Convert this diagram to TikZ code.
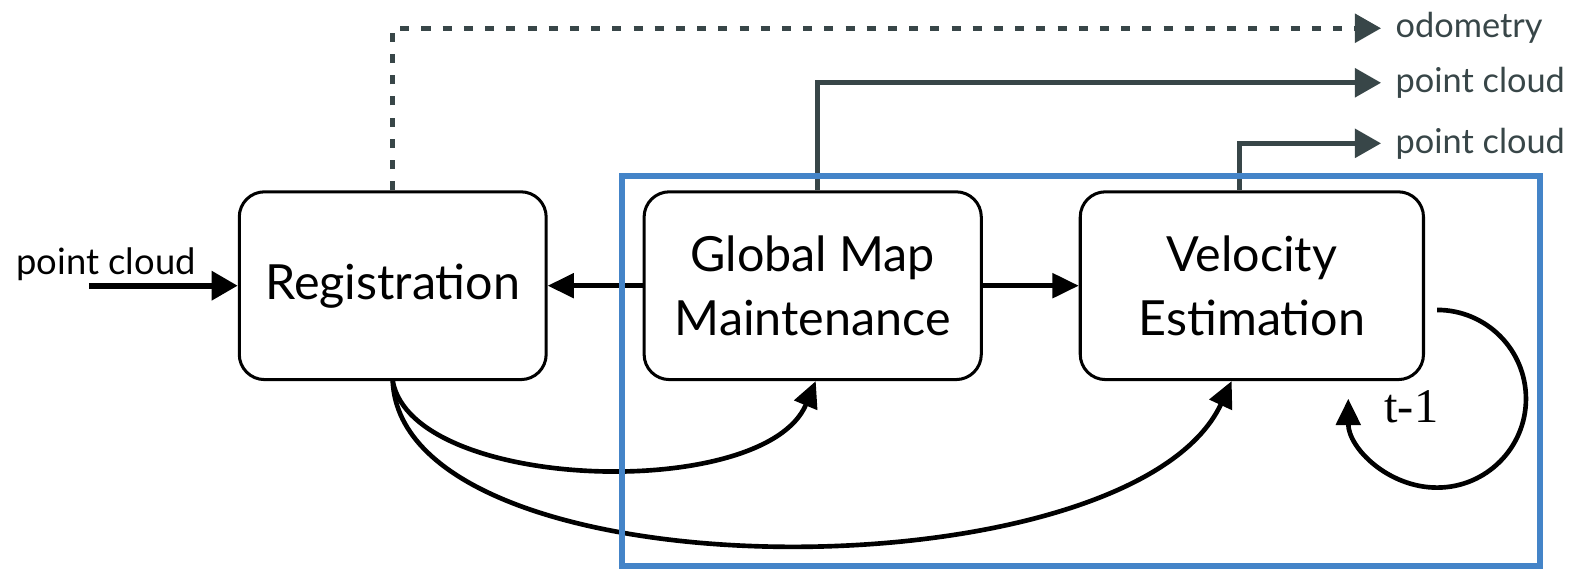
\documentclass[tikz,border=0pt]{standalone}
\usepackage{fontspec}
\setmainfont{Lato}
\newfontfamily\timesface{Liberation Serif}
\usetikzlibrary{arrows.meta, positioning, calc}
\definecolor{frameblue}{RGB}{68,132,200}
\definecolor{wiregray}{RGB}{56,70,72}
\tikzset{
  block/.style={draw, line width=1.5pt, rounded corners=12.5pt, minimum width=#1, minimum height=93pt,
    align=center, font=\fontsize{24}{31.5}\selectfont},
  outlabel/.style={anchor=west, inner xsep=7pt, inner ysep=1pt, text=wiregray, font=\fontsize{17}{20}\selectfont},
  wire/.style={draw=wiregray, line width=2.5pt, -{Triangle[length=13pt,width=14pt]}},
  flow/.style={line width=2.3pt, -{Triangle[length=13pt,width=12pt]}},
}

\begin{document}
\begin{tikzpicture}[x=0.5pt, y=0.5pt]
\useasboundingbox (0,0) rectangle (1568,565);

% Processing blocks
\node[block=152pt] (reg) at (389,282) {Registration};
\node[block=167pt] (gmm) at (805,282) {Global Map\\Maintenance};
\node[block=170pt] (vel) at (1240,282) {Velocity\\Estimation};

% Input
\coordinate (src) at (88,282);
\node[font=\fontsize{18}{21}\selectfont, inner sep=1pt] (inlabel) at (105,303) {point cloud};
\draw[line width=3pt, -{Triangle[length=13pt,width=14pt]}] (src) -- (reg.west);

% Outputs
\node[outlabel] (odo) at (1368,537) {odometry};
\node[outlabel] (pcmap) at (1368,483) {point cloud};
\node[outlabel] (pcvel) at (1368,423) {point cloud};
\draw[wire, dash pattern=on 4.5pt off 6pt] (reg.north) |- (odo.west);
\draw[wire] ([xshift=2.5pt]gmm.north) |- (pcmap.west);
\draw[wire] ([xshift=-6pt]vel.north) |- (pcvel.west);

% Links between blocks
\draw[flow] (gmm.west) -- (reg.east);
\draw[flow] (gmm.east) -- (vel.west);
\draw[flow] (reg.south) .. controls +(20,-110) and +(-50,-120) .. ([xshift=1.5pt]gmm.south);
\draw[flow] (reg.south) .. controls +(10,-215) and +(-100,-215) .. ([xshift=-10pt]vel.south);

% Feedback of the previous step
\draw[flow] ([shift={(12,-24)}]vel.east) arc[start angle=90, end angle=-180, radius=44pt];
\node[font=\timesface\fontsize{24}{28}\selectfont] (prev) at (1398,162) {t-1};

% Highlight frame
\draw[frameblue, line width=3pt] (616,4) rectangle (1525,391);

\end{tikzpicture}
\end{document}
